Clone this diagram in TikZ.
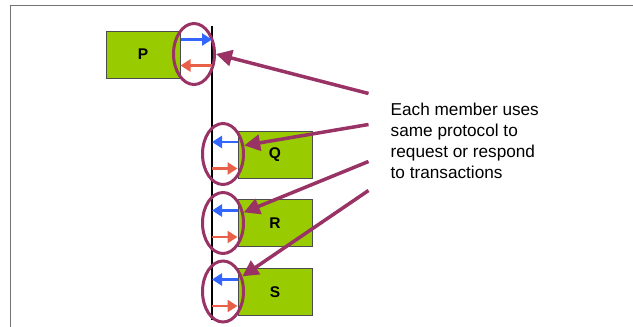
\documentclass[tikz,border=0pt]{standalone}
\usepackage{fontspec}
\setmainfont{Liberation Sans}
\usetikzlibrary{arrows.meta, shapes.geometric, positioning}
\definecolor{memgreen}{RGB}{153,204,0}
\definecolor{ringpurple}{RGB}{153,51,102}
\definecolor{reqblue}{RGB}{51,102,255}
\definecolor{resred}{RGB}{232,96,72}

\begin{document}
\begin{tikzpicture}[
  x=1pt, y=-1pt,
  % Member box
  member/.style={rectangle, fill=memgreen, draw=black!70, line width=1pt, minimum width=74pt, minimum height=47pt, font=\fontsize{15.5}{18}\selectfont\bfseries},
  % Ring round a member's port
  ring/.style={ellipse, draw=ringpurple, line width=3pt, minimum width=41pt, minimum height=61pt, inner sep=0pt},
  % Request and response arrows
  req/.style={-{Triangle[length=10pt,width=12pt]}, line width=2.5pt, draw=reqblue, fill=reqblue},
  res/.style={-{Triangle[length=10pt,width=12pt]}, line width=2.5pt, draw=resred, fill=resred},
  % Callout pointer
  pointer/.style={-{Triangle[length=16pt,width=16pt]}, line width=3.5pt, draw=ringpurple, fill=ringpurple},
  note/.style={align=left, inner sep=0pt, font=\fontsize{17.2}{21}\selectfont}
]
\useasboundingbox (0,0) rectangle (633,327);

%% Frame
\coordinate (frameBL) at (10.5,327);
\coordinate (frameTR) at (633,5.5);
\draw[line width=1.4pt, black!55] (frameBL) |- (frameTR);

%% Shared bus
\coordinate (busTop) at (212,26);
\coordinate (busBot) at (212,320);
\draw[line width=1.8pt] (busTop) -- (busBot);

%% Members
\node[member] (P) at (143,54.5)  {P};
\node[member] (Q) at (275,154.5) {Q};
\node[member] (R) at (275,223)   {R};
\node[member] (S) at (275,292)   {S};

%% Rings
\node[ring] (ringP) at (194,54) {};
\foreach \m/\y in {Q/154, R/223, S/291.5}
  \node[ring] (ring\m) at (223,\y) {};

%% Request / response arrows
\draw[req] ([yshift=15pt]P.east) -- ([yshift=15pt]P.east -| busTop);
\draw[res] ([yshift=-11pt]P.east -| busTop) -- ([yshift=-11pt]P.east);
\foreach \m in {Q,R,S} {
  \draw[req] ([yshift=12.5pt]\m.west) -- ([yshift=12.5pt]\m.west -| busTop);
  \draw[res] ([yshift=-14pt]\m.west -| busTop) -- ([yshift=-14pt]\m.west);
}

%% Note and pointers
\node[note, anchor=base west] (note) at (390.5,178)
  {Each member uses\\same protocol to\\request or respond\\to transactions};

\coordinate (tailP) at (368.5,93.5);
\coordinate (tailQ) at (368.5,124.5);
\coordinate (tailR) at (368.5,161.5);
\coordinate (tailS) at (368.5,190.5);
\draw[pointer] (tailP) -- (ringP.east);
\draw[pointer] (tailQ) -- (ringQ.22);
\draw[pointer] (tailR) -- (ringR.27);
\draw[pointer] (tailS) -- (ringS.38);

\end{tikzpicture}
\end{document}
